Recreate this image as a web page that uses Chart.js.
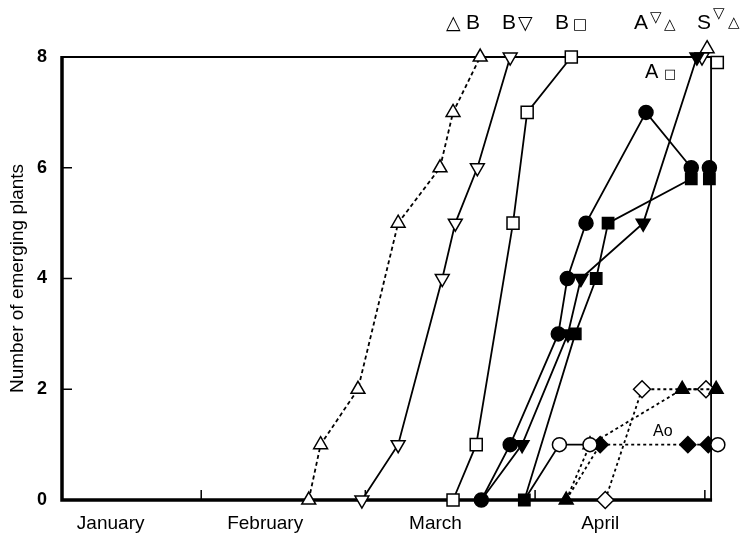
<!DOCTYPE html>
<html>
<head>
<meta charset="utf-8">
<script src="https://cdn.jsdelivr.net/npm/chart.js@4/dist/chart.umd.min.js"></script>
<style>
  html, body { margin: 0; padding: 0; background: #fff; }
</style>
</head>
<body>
<canvas id="emergeChart" width="746" height="539"></canvas>
<script>
// x values are days counted from 1 January
const monthNames = ['January', 'February', 'March', 'April'];
const monthLabelDays = [15, 42.3, 72.4, 101.5];
const monthStartDays = [31, 60, 90, 120];
const yInnerTicks = [2, 4, 6];
const dayMin = 6.4, dayFrameEnd = 121.1, dayMax = 122.5;

// open triangle, dashed
const openUpDays   = [50, 52.1, 58.7, 65.8, 73.2, 75.5, 80.3];
const openUpCounts = [0, 1, 2, 5, 6, 7, 8];
// open inverted triangle
const openDownDays   = [59.4, 65.8, 73.6, 75.9, 79.8, 85.6];
const openDownCounts = [0, 1, 4, 5, 6, 8];
// open square
const openSquareDays   = [75.5, 79.6, 86.1, 88.6, 96.4];
const openSquareCounts = [0, 1, 5, 7, 8];
// filled circle
const circleDays   = [80.5, 85.6, 94.1, 95.7, 99.0, 109.6, 117.6, 119, 120.8];
const circleCounts = [0, 1, 3, 4, 5, 7, 6, null, 6];
// filled inverted triangle (starts under the circle)
const downDays   = [80.5, 87.7, 95.8, 98.1, 109.1, 118.6];
const downCounts = [0, 1, 3, 4, 5, 8];
// filled square
const squareDays   = [88.1, 97.1, 100.8, 102.9, 117.6, 119, 120.8];
const squareCounts = [0, 3, 4, 5, 5.8, null, 5.8];
// open circle (starts under the square)
const openCircleDays   = [88.1, 94.3, 99.7, 110, 122.3];
const openCircleCounts = [0, 1, 1, null, 1];
// filled triangle, dotted
const upDays   = [95.5, 99.7, 116.0, 122.0];
const upCounts = [0, 1, 2, 2];
// filled diamond, dotted (starts under the triangle)
const diamondDays   = [95.5, 101.5, 117.0, 120.6];
const diamondCounts = [0, 1, 1, 1];
// open diamond, dotted
const openDiamondDays   = [102.4, 108.9, 120.2];
const openDiamondCounts = [0, 2, 2];
// single end markers (A and S treatments)
const endDownDays = [119.5], endDownCounts = [8];
const endUpDays = [120.4], endUpCounts = [8.15];
const endSquareDays = [122.2], endSquareCounts = [7.9];

function toPoints(days, counts) {
    return days.map((d, i) => ({ x: d, y: counts[i] }));
}

function series(days, counts, style, opts) {
    return Object.assign({
        data: toPoints(days, counts),
        showLine: true,
        borderColor: '#000',
        borderWidth: 1.8,
        pointStyle: style,
        pointRadius: 7,
        pointBorderColor: '#000',
        pointBorderWidth: 1.5,
        pointBackgroundColor: '#000',
        backgroundColor: '#000',
        tension: 0,
        spanGaps: false,
        clip: false
    }, opts || {});
}

// hide the marker of a first point that sits under another series' marker
function hiddenFirst(n, r) {
    return Array.from({ length: n }, (_, i) => i === 0 ? 0 : r);
}

const dashed = [4, 3];
const dotted = [3, 3];

const framePlugin = {
    id: 'frame',
    beforeDatasetsDraw(chart) {
        const ctx = chart.ctx;
        const x = chart.scales.x, y = chart.scales.y;
        const left = chart.chartArea.left;
        const right = x.getPixelForValue(dayFrameEnd);
        const top = y.getPixelForValue(8);
        const bottom = y.getPixelForValue(0);
        ctx.save();
        ctx.strokeStyle = '#000';
        ctx.lineWidth = 1.8;
        ctx.beginPath();
        ctx.moveTo(left, top);
        ctx.lineTo(right, top);
        ctx.lineTo(right, bottom);
        ctx.stroke();
        ctx.lineWidth = 3.5;
        ctx.beginPath();
        ctx.moveTo(left, top - 1);
        ctx.lineTo(left, bottom);
        ctx.lineTo(right + 1, bottom);
        ctx.stroke();
        // inward ticks
        ctx.lineWidth = 1.5;
        ctx.beginPath();
        yInnerTicks.forEach(v => {
            const py = y.getPixelForValue(v);
            ctx.moveTo(left, py);
            ctx.lineTo(left + 10, py);
        });
        monthStartDays.forEach(d => {
            const px = x.getPixelForValue(d);
            ctx.moveTo(px, bottom);
            ctx.lineTo(px, bottom - 10);
        });
        ctx.stroke();
        ctx.restore();
    },
    afterDatasetsDraw(chart) {
        const ctx = chart.ctx;
        ctx.save();
        ctx.fillStyle = '#000';
        ctx.textBaseline = 'alphabetic';
        const big = "21px 'Liberation Sans', 'DejaVu Sans', sans-serif";
        const sym = "19px 'DejaVu Sans', sans-serif";
        const small = "15px 'DejaVu Sans', sans-serif";
        ctx.font = sym;  ctx.fillText('\u25B3', 446, 29);
        ctx.font = big;  ctx.fillText('B', 466, 29);
        ctx.font = big;  ctx.fillText('B', 502, 29);
        ctx.font = sym;  ctx.fillText('\u25BD', 518, 29);
        ctx.font = big;  ctx.fillText('B', 555, 29);
        ctx.font = small; ctx.fillText('\u25A1', 573, 29);
        ctx.font = big;  ctx.fillText('A', 634, 29);
        ctx.font = small; ctx.fillText('\u25BD', 650, 22);
        ctx.fillText('\u25B3', 664, 29);
        ctx.font = big;  ctx.fillText('S', 697, 29);
        ctx.font = small; ctx.fillText('\u25BD', 713, 18);
        ctx.fillText('\u25B3', 728, 27);
        ctx.font = "20px 'Liberation Sans', sans-serif"; ctx.fillText('A', 645, 78);
        ctx.font = "13px 'DejaVu Sans', sans-serif"; ctx.fillText('\u25A1', 664, 78);
        ctx.font = "16px 'Liberation Sans', sans-serif"; ctx.fillText('Ao', 653, 436);
        ctx.restore();
    }
};

const white = { pointBackgroundColor: '#fff', backgroundColor: '#fff' };

new Chart(document.getElementById('emergeChart'), {
    type: 'scatter',
    data: {
        datasets: [
            series(openUpDays, openUpCounts, 'triangle', Object.assign({ borderDash: dashed, pointRadius: 8 }, white)),
            series(openDownDays, openDownCounts, 'triangle', Object.assign({ pointRotation: 180, pointRadius: 8 }, white)),
            series(openSquareDays, openSquareCounts, 'rect', Object.assign({ pointRadius: 8.5 }, white)),
            series(circleDays, circleCounts, 'circle', { pointRadius: 7 }),
            series(downDays, downCounts, 'triangle', { pointRotation: 180, pointRadius: hiddenFirst(downDays.length, 8) }),
            series(squareDays, squareCounts, 'rect', { pointRadius: 8 }),
            series(openCircleDays, openCircleCounts, 'circle', Object.assign({ pointRadius: hiddenFirst(openCircleDays.length, 7) }, white)),
            series(upDays, upCounts, 'triangle', { borderDash: dotted, pointRadius: 8 }),
            series(diamondDays, diamondCounts, 'rectRot', { borderDash: dotted, pointRadius: hiddenFirst(diamondDays.length, 8) }),
            series(openDiamondDays, openDiamondCounts, 'rectRot', Object.assign({ borderDash: dotted, pointRadius: 8.5 }, white)),
            series(endDownDays, endDownCounts, 'triangle', Object.assign({ pointRotation: 180, pointRadius: 8 }, white)),
            series(endUpDays, endUpCounts, 'triangle', Object.assign({ pointRadius: 8 }, white)),
            series(endSquareDays, endSquareCounts, 'rect', Object.assign({ pointRadius: 8.5 }, white))
        ]
    },
    options: {
        responsive: false,
        animation: false,
        devicePixelRatio: 1,
        layout: { padding: { top: 57, right: 27, left: 0, bottom: 0 } },
        plugins: {
            legend: { display: false },
            tooltip: { enabled: false }
        },
        scales: {
            x: {
                type: 'linear',
                min: dayMin,
                max: dayMax,
                afterBuildTicks: scale => {
                    scale.ticks = monthLabelDays.map(v => ({ value: v }));
                },
                afterFit: scale => { scale.height = 39; },
                ticks: {
                    callback: (value, index) => monthNames[index],
                    autoSkip: false,
                    maxRotation: 0,
                    padding: 12,
                    color: '#000',
                    font: { family: "'Liberation Sans', sans-serif", size: 19 }
                },
                grid: { display: false, drawTicks: false },
                border: { display: false }
            },
            y: {
                min: 0,
                max: 8,
                afterFit: scale => { scale.width = 62; },
                ticks: {
                    stepSize: 2,
                    padding: 15,
                    color: '#000',
                    font: { family: "'Liberation Sans', sans-serif", size: 18, weight: 'bold' }
                },
                title: {
                    display: true,
                    text: 'Number of emerging plants',
                    color: '#000',
                    padding: { top: 6, bottom: 0 },
                    font: { family: "'Liberation Sans', sans-serif", size: 19 }
                },
                grid: { display: false, drawTicks: false },
                border: { display: false }
            }
        }
    },
    plugins: [framePlugin]
});
</script>
</body>
</html>
